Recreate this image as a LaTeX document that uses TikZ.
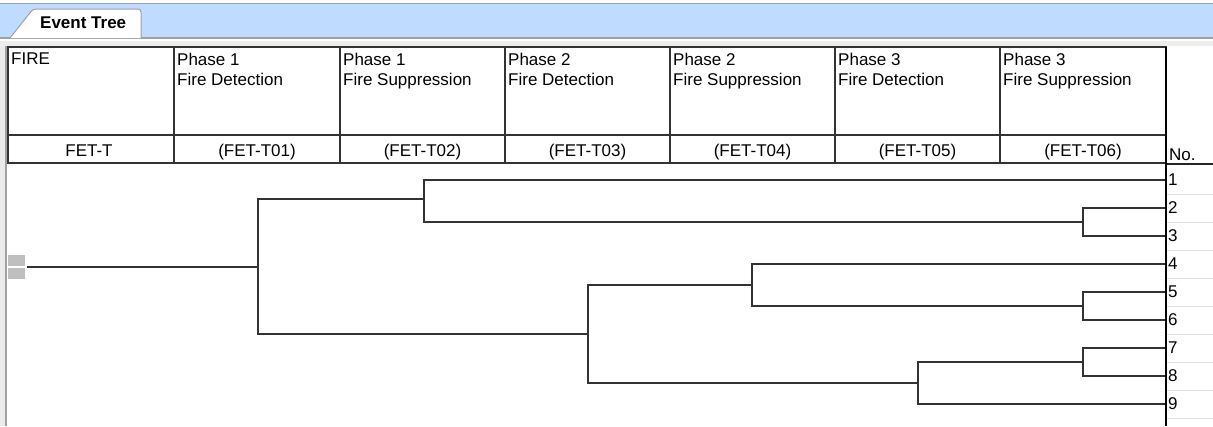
\documentclass[tikz,border=0pt]{standalone}
\usepackage{fontspec}
\setmainfont{Liberation Sans}

\definecolor{tabblue}{RGB}{191,219,255}
\definecolor{framegray}{RGB}{160,160,160}
\definecolor{linegray}{RGB}{51,51,51}

\begin{document}
\begin{tikzpicture}[x=1pt,y=-1pt,
	grid/.style={line width=1.6pt,draw=linegray},
	branch/.style={line width=1.8pt,draw=linegray},
	sepline/.style={line width=1pt,draw=black!12},
	hdr/.style={anchor=north west,inner sep=0pt,align=left,font=\fontsize{17}{20}\selectfont},
	code/.style={anchor=base,inner sep=0pt,font=\fontsize{17}{20}\selectfont},
	seqnum/.style={anchor=west,inner sep=1pt,font=\fontsize{17}{20}\selectfont}]

	\useasboundingbox (0,0) rectangle (1213,426);

	% tab bar
	\fill[tabblue] (0,3) rectangle (1213,37);
	\draw[framegray,line width=1pt] (0,3) -- (1213,3);
	\draw[framegray,line width=1.4pt] (0,38) -- (1213,38);
	\fill[black!7] (0,41) rectangle (1213,46);
	\filldraw[fill=white,draw=framegray,line width=1pt,rounded corners=3pt]
		(10,38) -- (33,9) -- (141,9) -- (141,38);
	\node[anchor=base west,inner sep=0pt,font=\bfseries\fontsize{17}{20}\selectfont]
		(tab) at (40,28) {Event Tree};

	% left frame
	\fill[black!8] (0,46) rectangle (5,426);
	\draw[framegray,line width=2.4pt] (6,46) -- (6,426);

	% header cells
	\foreach \xa/\xb in {8/174,174/340,340/505,505/670,670/835,835/1000,1000/1166} {
		\draw[grid] (\xa,47) rectangle (\xb,163);
		\draw[grid] (\xa,135) -- (\xb,135);
	}

	% header texts
	\node[hdr] (h0) at (11,53) {FIRE};
	\foreach \i/\x/\ph/\task in {1/174/1/Detection,2/340/1/Suppression,3/505/2/Detection,
			4/670/2/Suppression,5/835/3/Detection,6/1000/3/Suppression}
		\node[hdr] (h\i) at (\x+3,53) {Phase \ph\\Fire \task};

	% top event codes
	\node[code] (c0) at (89,156) {FET-T};
	\foreach \i/\x in {1/257,2/422.5,3/587.5,4/752.5,5/917.5,6/1083}
		\node[code] (c\i) at (\x,156) {(FET-T0\i)};

	% sequence column
	\node[seqnum,anchor=base west] (no) at (1168,160) {No.};
	\draw[line width=1.4pt,black!85] (1166,164) -- (1213,164);
	\foreach \k in {1,...,9} {
		\draw[sepline] (1167,{166+28*\k}) -- (1213,{166+28*\k});
		\node[seqnum] (n\k) at (1167,{152+28*\k}) {\k};
	}

	% initiator marker
	\fill[black!25] (8,255) rectangle (25,266);
	\fill[black!25] (8,268) rectangle (25,279);

	% branch points
	\coordinate (init) at (27,267);
	\coordinate (f0) at (258,267);
	\coordinate (f1) at (424,199);
	\coordinate (f2) at (1083,222);
	\coordinate (f3) at (588,334);
	\coordinate (f4) at (752,285);
	\coordinate (f5) at (1083,306);
	\coordinate (f6) at (918,383);
	\coordinate (f7) at (1083,362);

	% tree
	\draw[branch] (init) -- (f0);
	\draw[branch] (f0) |- (f1);
	\draw[branch] (f0) |- (f3);
	\draw[branch] (f1) |- (n1.west);
	\draw[branch] (f1) |- (f2);
	\draw[branch] (f2) |- (n2.west);
	\draw[branch] (f2) |- (n3.west);
	\draw[branch] (f3) |- (f4);
	\draw[branch] (f3) |- (f6);
	\draw[branch] (f4) |- (n4.west);
	\draw[branch] (f4) |- (f5);
	\draw[branch] (f5) |- (n5.west);
	\draw[branch] (f5) |- (n6.west);
	\draw[branch] (f6) |- (f7);
	\draw[branch] (f6) |- (n9.west);
	\draw[branch] (f7) |- (n7.west);
	\draw[branch] (f7) |- (n8.west);

	% right border of the tree
	\draw[line width=2.6pt,black] (1166,47) -- (1166,426);

\end{tikzpicture}
\end{document}
